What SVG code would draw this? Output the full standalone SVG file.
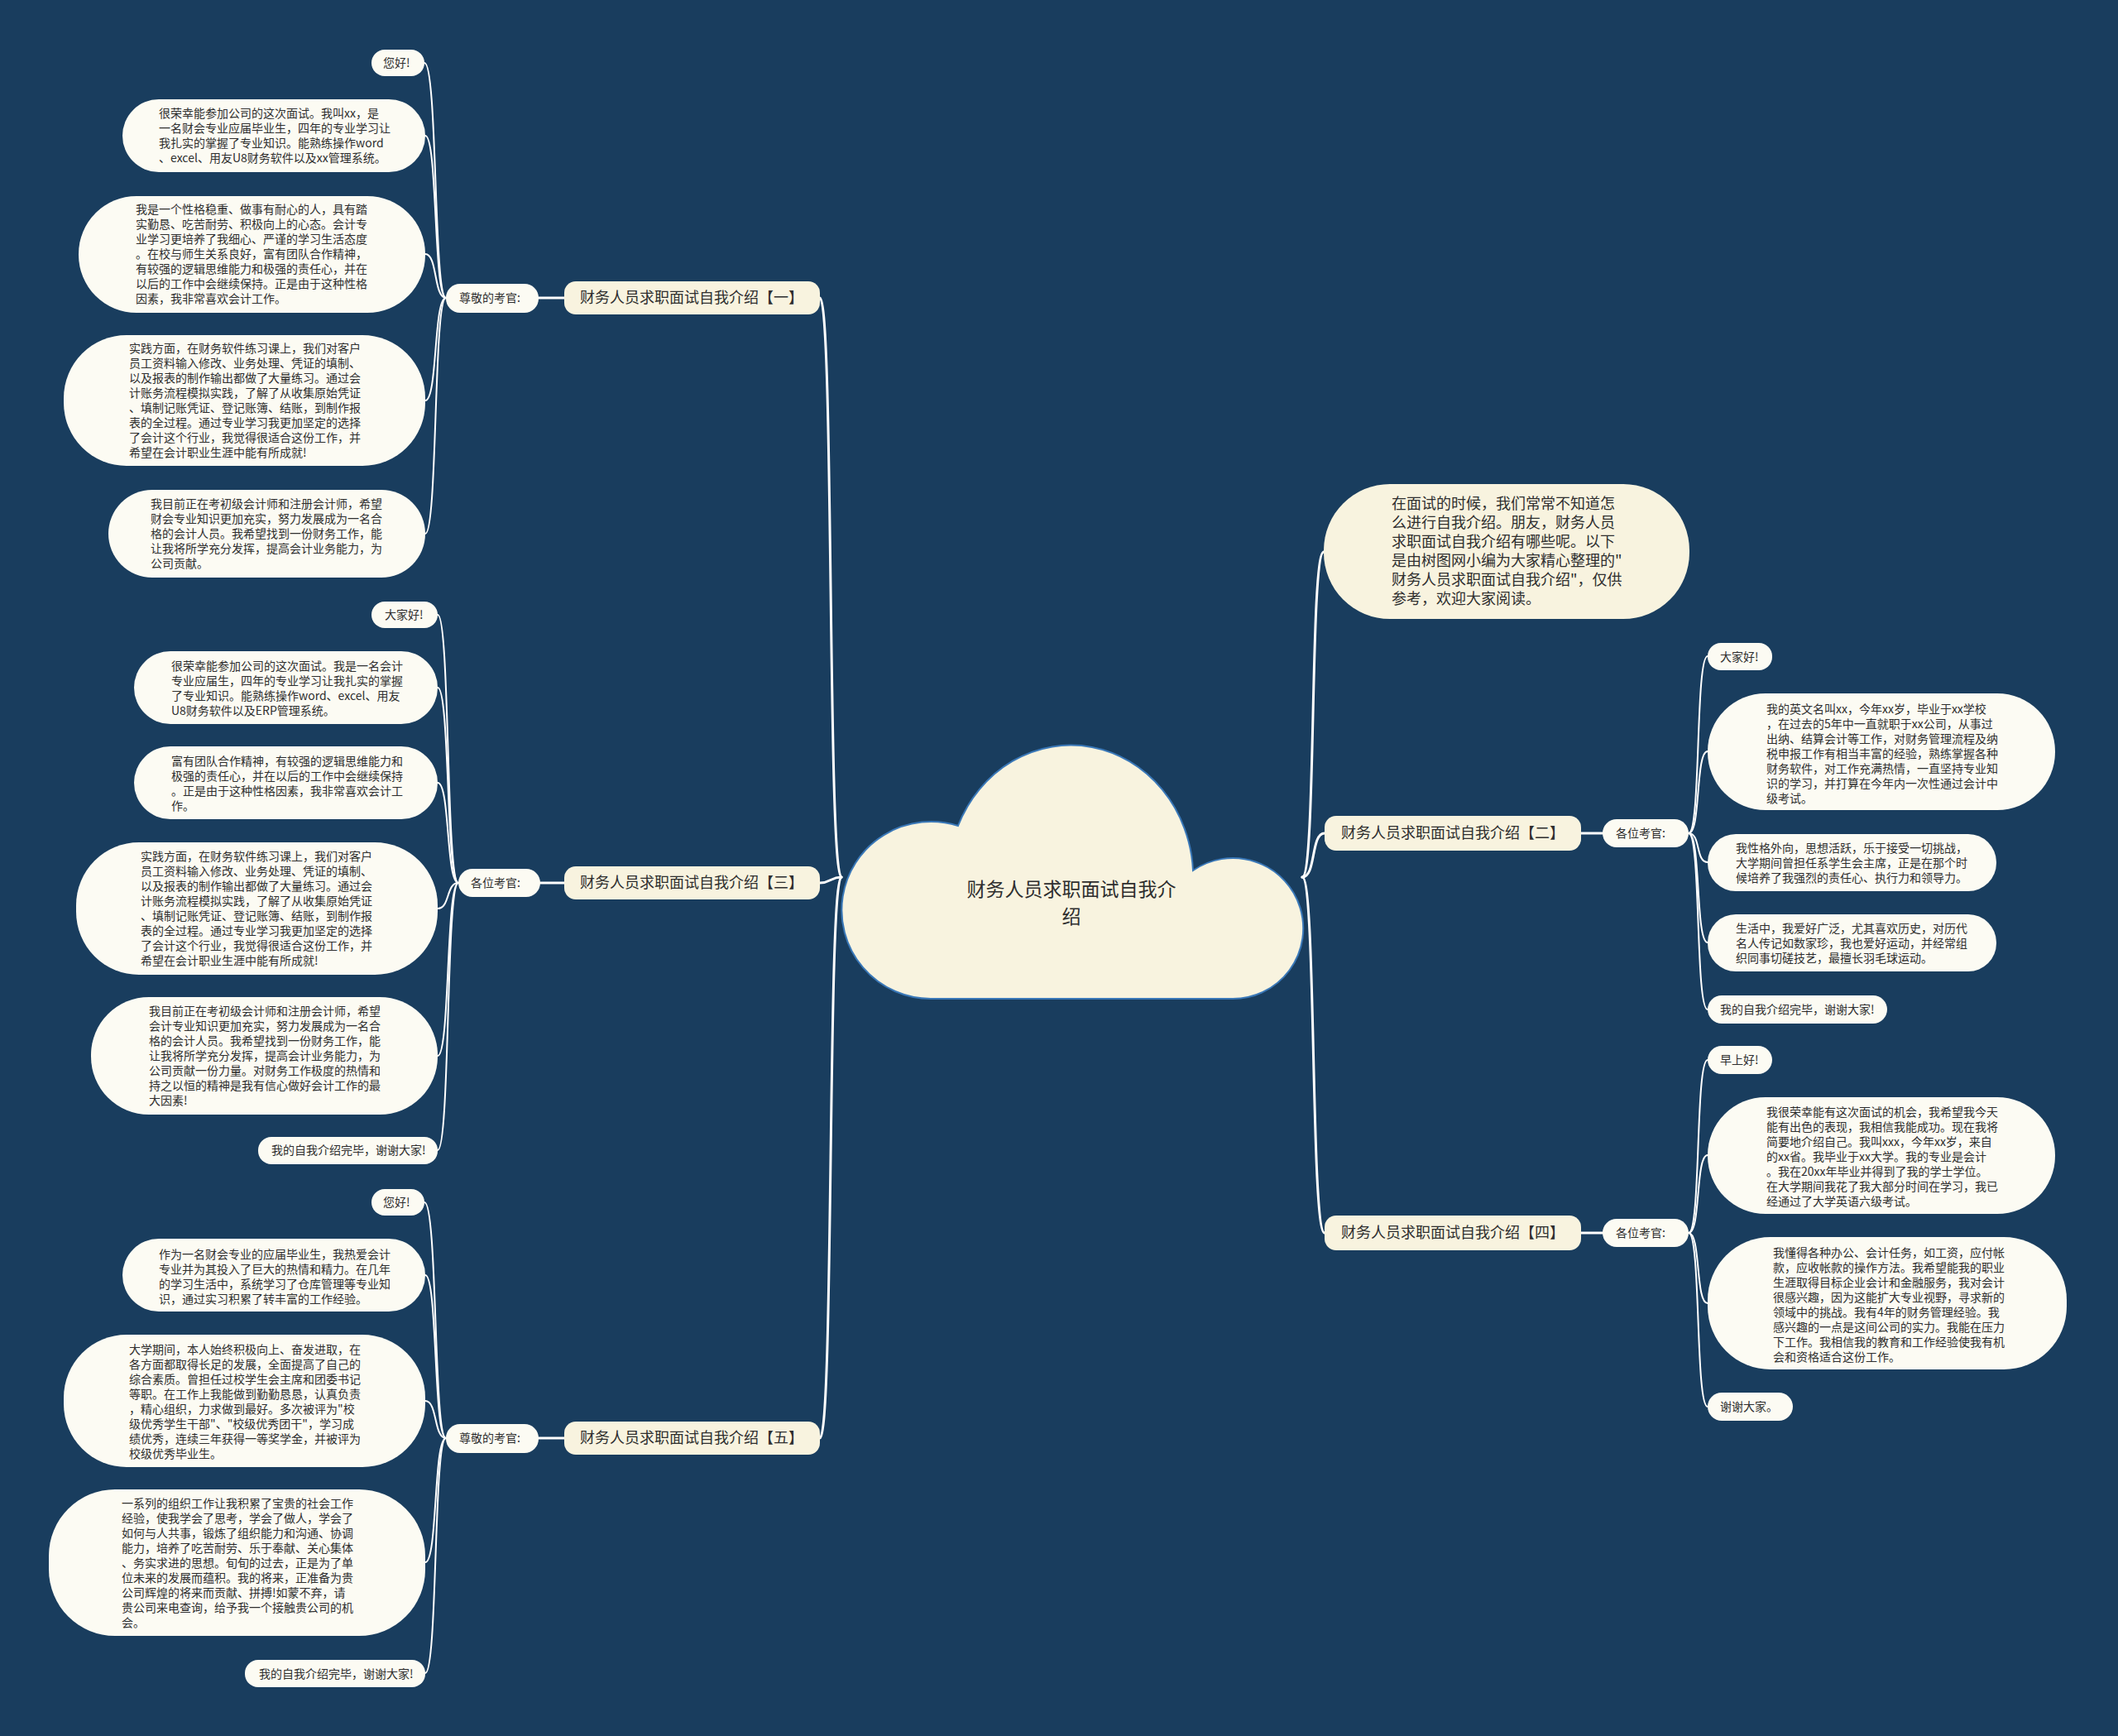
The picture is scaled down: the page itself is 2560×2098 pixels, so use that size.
<svg xmlns="http://www.w3.org/2000/svg" width="2560" height="2098" viewBox="0 0 2560 2098">
<style>
.leaf{fill:#fcfbf3}
.cream{fill:#f8f3df}
.t14{font-family:"Noto Sans CJK SC","Liberation Sans",sans-serif;font-size:14px;fill:#2e2e2e}
.t18{font-family:"Noto Sans CJK SC","Liberation Sans",sans-serif;font-size:18px;fill:#2e2e2e}
.t23{font-family:"Noto Sans CJK SC","Liberation Sans",sans-serif;font-size:23px;fill:#2e2e2e}
.c{fill:none;stroke:#ffffff;stroke-width:2;stroke-linecap:round}
.cm{fill:none;stroke:#ffffff;stroke-width:3;stroke-linecap:round}
</style>
<rect width="2560" height="2098" fill="#193d5e"/>
<g id="connectors">
<path class="cm" d="M1017,1060 C1000,1060 1008,360 991,360"/>
<path class="cm" d="M1017,1060 C1004,1060 1004,1067 991,1067"/>
<path class="cm" d="M1017,1060 C1000,1060 1008,1738 991,1738"/>
<path class="cm" d="M1574,1060 C1591,1060 1583,667 1600,667"/>
<path class="cm" d="M1574,1060 C1591,1060 1584,1007 1601,1007"/>
<path class="cm" d="M1574,1060 C1591,1060 1584,1490 1601,1490"/>
<path class="cm" d="M682,360 L651,360"/>
<path class="cm" d="M682,1067 L653,1067"/>
<path class="cm" d="M682,1738 L651,1738"/>
<path class="cm" d="M1911,1007 L1937,1007"/>
<path class="cm" d="M1911,1490 L1937,1490"/>
<path class="c" d="M539,360 C524,360 529,76 513,76"/>
<path class="c" d="M539,360 C524,360 529,164 514,164"/>
<path class="c" d="M539,360 C524,360 529,307 514,307"/>
<path class="c" d="M539,360 C524,360 529,484 514,484"/>
<path class="c" d="M539,360 C524,360 529,645 514,645"/>
<path class="c" d="M554,1067 C539,1067 544,743 529,743"/>
<path class="c" d="M554,1067 C539,1067 544,831 529,831"/>
<path class="c" d="M554,1067 C539,1067 544,946 529,946"/>
<path class="c" d="M554,1067 C539,1067 544,1098 529,1098"/>
<path class="c" d="M554,1067 C539,1067 544,1276 529,1276"/>
<path class="c" d="M554,1067 C539,1067 544,1390 529,1390"/>
<path class="c" d="M539,1738 C524,1738 529,1453 513,1453"/>
<path class="c" d="M539,1738 C524,1738 529,1541 514,1541"/>
<path class="c" d="M539,1738 C524,1738 529,1693 514,1693"/>
<path class="c" d="M539,1738 C524,1738 529,1888 514,1888"/>
<path class="c" d="M539,1738 C524,1738 529,2022 514,2022"/>
<path class="c" d="M2041,1007 C2056,1007 2049,793 2064,793"/>
<path class="c" d="M2041,1007 C2056,1007 2049,908 2064,908"/>
<path class="c" d="M2041,1007 C2056,1007 2049,1042 2064,1042"/>
<path class="c" d="M2041,1007 C2056,1007 2049,1139 2064,1139"/>
<path class="c" d="M2041,1007 C2056,1007 2049,1220 2064,1220"/>
<path class="c" d="M2041,1490 C2056,1490 2049,1281 2064,1281"/>
<path class="c" d="M2041,1490 C2056,1490 2049,1396 2064,1396"/>
<path class="c" d="M2041,1490 C2056,1490 2049,1575 2064,1575"/>
<path class="c" d="M2041,1490 C2056,1490 2049,1700 2064,1700"/>
</g>
<g id="root">
<path d="M1125,1207 A108,107 0 1 1 1158,998 A148,160 0 0 1 1442,1052 A85,85 0 1 1 1490,1207 Z" fill="#f8f3df" stroke="#3a78b8" stroke-width="2"/>
<text class="t23" text-anchor="middle"><tspan x="1295" y="1083">财务人员求职面试自我介</tspan><tspan x="1295" y="1116">绍</tspan></text>
</g>
<g id="intro">
<rect class="cream" x="1600" y="585" width="442" height="163" rx="80"/>
<text class="t18"><tspan x="1682" y="615">在面试的时候，我们常常不知道怎</tspan><tspan x="1682" dy="23">么进行自我介绍。朋友，财务人员</tspan><tspan x="1682" dy="23">求职面试自我介绍有哪些呢。以下</tspan><tspan x="1682" dy="23">是由树图网小编为大家精心整理的"</tspan><tspan x="1682" dy="23">财务人员求职面试自我介绍"，仅供</tspan><tspan x="1682" dy="23">参考，欢迎大家阅读。</tspan></text>
</g>
<g id="b1">
<rect class="cream" x="682" y="340" width="309" height="40" rx="14"/>
<text class="t18" x="701" y="366">财务人员求职面试自我介绍【一】</text>
</g>
<g id="l1">
<rect class="leaf" x="539" y="343" width="112" height="35" rx="17"/>
<text class="t14" x="555" y="365">尊敬的考官:</text>
</g>
<g id="n1a">
<rect class="leaf" x="449" y="60" width="64" height="32" rx="16"/>
<text class="t14" x="463" y="81">您好!</text>
</g>
<g id="n1b">
<rect class="leaf" x="148" y="120" width="366" height="88" rx="44"/>
<text class="t14"><tspan x="192" y="142">很荣幸能参加公司的这次面试。我叫xx，是</tspan><tspan x="192" dy="18">一名财会专业应届毕业生，四年的专业学习让</tspan><tspan x="192" dy="18">我扎实的掌握了专业知识。能熟练操作word</tspan><tspan x="192" dy="18">、excel、用友U8财务软件以及xx管理系统。</tspan></text>
</g>
<g id="n1c">
<rect class="leaf" x="95" y="237" width="419" height="141" rx="70"/>
<text class="t14"><tspan x="164" y="258">我是一个性格稳重、做事有耐心的人，具有踏</tspan><tspan x="164" dy="18">实勤恳、吃苦耐劳、积极向上的心态。会计专</tspan><tspan x="164" dy="18">业学习更培养了我细心、严谨的学习生活态度</tspan><tspan x="164" dy="18">。在校与师生关系良好，富有团队合作精神，</tspan><tspan x="164" dy="18">有较强的逻辑思维能力和极强的责任心，并在</tspan><tspan x="164" dy="18">以后的工作中会继续保持。正是由于这种性格</tspan><tspan x="164" dy="18">因素，我非常喜欢会计工作。</tspan></text>
</g>
<g id="n1d">
<rect class="leaf" x="77" y="405" width="437" height="158" rx="76"/>
<text class="t14"><tspan x="156" y="426">实践方面，在财务软件练习课上，我们对客户</tspan><tspan x="156" dy="18">员工资料输入修改、业务处理、凭证的填制、</tspan><tspan x="156" dy="18">以及报表的制作输出都做了大量练习。通过会</tspan><tspan x="156" dy="18">计账务流程模拟实践，了解了从收集原始凭证</tspan><tspan x="156" dy="18">、填制记账凭证、登记账簿、结账，到制作报</tspan><tspan x="156" dy="18">表的全过程。通过专业学习我更加坚定的选择</tspan><tspan x="156" dy="18">了会计这个行业，我觉得很适合这份工作，并</tspan><tspan x="156" dy="18">希望在会计职业生涯中能有所成就!</tspan></text>
</g>
<g id="n1e">
<rect class="leaf" x="131" y="592" width="383" height="106" rx="53"/>
<text class="t14"><tspan x="182" y="614">我目前正在考初级会计师和注册会计师，希望</tspan><tspan x="182" dy="18">财会专业知识更加充实，努力发展成为一名合</tspan><tspan x="182" dy="18">格的会计人员。我希望找到一份财务工作，能</tspan><tspan x="182" dy="18">让我将所学充分发挥，提高会计业务能力，为</tspan><tspan x="182" dy="18">公司贡献。</tspan></text>
</g>
<g id="b3">
<rect class="cream" x="682" y="1047" width="309" height="40" rx="14"/>
<text class="t18" x="701" y="1073">财务人员求职面试自我介绍【三】</text>
</g>
<g id="l3">
<rect class="leaf" x="554" y="1050" width="99" height="34" rx="17"/>
<text class="t14" x="569" y="1072">各位考官:</text>
</g>
<g id="n3a">
<rect class="leaf" x="449" y="727" width="80" height="32" rx="16"/>
<text class="t14" x="465" y="748">大家好!</text>
</g>
<g id="n3b">
<rect class="leaf" x="162" y="787" width="367" height="88" rx="44"/>
<text class="t14"><tspan x="207" y="810">很荣幸能参加公司的这次面试。我是一名会计</tspan><tspan x="207" dy="18">专业应届生，四年的专业学习让我扎实的掌握</tspan><tspan x="207" dy="18">了专业知识。能熟练操作word、excel、用友</tspan><tspan x="207" dy="18">U8财务软件以及ERP管理系统。</tspan></text>
</g>
<g id="n3c">
<rect class="leaf" x="162" y="902" width="367" height="88" rx="44"/>
<text class="t14"><tspan x="207" y="925">富有团队合作精神，有较强的逻辑思维能力和</tspan><tspan x="207" dy="18">极强的责任心，并在以后的工作中会继续保持</tspan><tspan x="207" dy="18">。正是由于这种性格因素，我非常喜欢会计工</tspan><tspan x="207" dy="18">作。</tspan></text>
</g>
<g id="n3d">
<rect class="leaf" x="92" y="1018" width="437" height="160" rx="76"/>
<text class="t14"><tspan x="170" y="1040">实践方面，在财务软件练习课上，我们对客户</tspan><tspan x="170" dy="18">员工资料输入修改、业务处理、凭证的填制、</tspan><tspan x="170" dy="18">以及报表的制作输出都做了大量练习。通过会</tspan><tspan x="170" dy="18">计账务流程模拟实践，了解了从收集原始凭证</tspan><tspan x="170" dy="18">、填制记账凭证、登记账簿、结账，到制作报</tspan><tspan x="170" dy="18">表的全过程。通过专业学习我更加坚定的选择</tspan><tspan x="170" dy="18">了会计这个行业，我觉得很适合这份工作，并</tspan><tspan x="170" dy="18">希望在会计职业生涯中能有所成就!</tspan></text>
</g>
<g id="n3e">
<rect class="leaf" x="110" y="1205" width="419" height="142" rx="70"/>
<text class="t14"><tspan x="180" y="1227">我目前正在考初级会计师和注册会计师，希望</tspan><tspan x="180" dy="18">会计专业知识更加充实，努力发展成为一名合</tspan><tspan x="180" dy="18">格的会计人员。我希望找到一份财务工作，能</tspan><tspan x="180" dy="18">让我将所学充分发挥，提高会计业务能力，为</tspan><tspan x="180" dy="18">公司贡献一份力量。对财务工作极度的热情和</tspan><tspan x="180" dy="18">持之以恒的精神是我有信心做好会计工作的最</tspan><tspan x="180" dy="18">大因素!</tspan></text>
</g>
<g id="n3f">
<rect class="leaf" x="312" y="1374" width="217" height="33" rx="16"/>
<text class="t14" x="328" y="1395">我的自我介绍完毕，谢谢大家!</text>
</g>
<g id="b5">
<rect class="cream" x="682" y="1718" width="309" height="40" rx="14"/>
<text class="t18" x="701" y="1744">财务人员求职面试自我介绍【五】</text>
</g>
<g id="l5">
<rect class="leaf" x="539" y="1721" width="112" height="35" rx="17"/>
<text class="t14" x="555" y="1743">尊敬的考官:</text>
</g>
<g id="n5a">
<rect class="leaf" x="449" y="1437" width="64" height="32" rx="16"/>
<text class="t14" x="463" y="1458">您好!</text>
</g>
<g id="n5b">
<rect class="leaf" x="148" y="1497" width="366" height="88" rx="44"/>
<text class="t14"><tspan x="192" y="1521">作为一名财会专业的应届毕业生，我热爱会计</tspan><tspan x="192" dy="18">专业并为其投入了巨大的热情和精力。在几年</tspan><tspan x="192" dy="18">的学习生活中，系统学习了仓库管理等专业知</tspan><tspan x="192" dy="18">识，通过实习积累了转丰富的工作经验。</tspan></text>
</g>
<g id="n5c">
<rect class="leaf" x="77" y="1613" width="437" height="160" rx="76"/>
<text class="t14"><tspan x="156" y="1636">大学期间，本人始终积极向上、奋发进取，在</tspan><tspan x="156" dy="18">各方面都取得长足的发展，全面提高了自己的</tspan><tspan x="156" dy="18">综合素质。曾担任过校学生会主席和团委书记</tspan><tspan x="156" dy="18">等职。在工作上我能做到勤勤恳恳，认真负责</tspan><tspan x="156" dy="18">，精心组织，力求做到最好。多次被评为"校</tspan><tspan x="156" dy="18">级优秀学生干部"、"校级优秀团干"，学习成</tspan><tspan x="156" dy="18">绩优秀，连续三年获得一等奖学金，并被评为</tspan><tspan x="156" dy="18">校级优秀毕业生。</tspan></text>
</g>
<g id="n5d">
<rect class="leaf" x="59" y="1800" width="455" height="177" rx="80"/>
<text class="t14"><tspan x="147" y="1822">一系列的组织工作让我积累了宝贵的社会工作</tspan><tspan x="147" dy="18">经验，使我学会了思考，学会了做人，学会了</tspan><tspan x="147" dy="18">如何与人共事，锻炼了组织能力和沟通、协调</tspan><tspan x="147" dy="18">能力，培养了吃苦耐劳、乐于奉献、关心集体</tspan><tspan x="147" dy="18">、务实求进的思想。旬旬的过去，正是为了单</tspan><tspan x="147" dy="18">位未来的发展而蕴积。我的将来，正准备为贵</tspan><tspan x="147" dy="18">公司辉煌的将来而贡献、拼搏!如蒙不弃，请</tspan><tspan x="147" dy="18">贵公司来电查询，给予我一个接触贵公司的机</tspan><tspan x="147" dy="18">会。</tspan></text>
</g>
<g id="n5e">
<rect class="leaf" x="296" y="2006" width="218" height="33" rx="16"/>
<text class="t14" x="313" y="2028">我的自我介绍完毕，谢谢大家!</text>
</g>
<g id="b2">
<rect class="cream" x="1601" y="986" width="310" height="42" rx="14"/>
<text class="t18" x="1621" y="1013">财务人员求职面试自我介绍【二】</text>
</g>
<g id="l2">
<rect class="leaf" x="1937" y="990" width="104" height="34" rx="17"/>
<text class="t14" x="1953" y="1012">各位考官:</text>
</g>
<g id="n2a">
<rect class="leaf" x="2064" y="777" width="78" height="33" rx="16"/>
<text class="t14" x="2079" y="799">大家好!</text>
</g>
<g id="n2b">
<rect class="leaf" x="2064" y="838" width="420" height="141" rx="70"/>
<text class="t14"><tspan x="2135" y="862">我的英文名叫xx，今年xx岁，毕业于xx学校</tspan><tspan x="2135" dy="18">，在过去的5年中一直就职于xx公司，从事过</tspan><tspan x="2135" dy="18">出纳、结算会计等工作，对财务管理流程及纳</tspan><tspan x="2135" dy="18">税申报工作有相当丰富的经验，熟练掌握各种</tspan><tspan x="2135" dy="18">财务软件，对工作充满热情，一直坚持专业知</tspan><tspan x="2135" dy="18">识的学习，并打算在今年内一次性通过会计中</tspan><tspan x="2135" dy="18">级考试。</tspan></text>
</g>
<g id="n2c">
<rect class="leaf" x="2064" y="1008" width="349" height="69" rx="34"/>
<text class="t14"><tspan x="2098" y="1030">我性格外向，思想活跃，乐于接受一切挑战，</tspan><tspan x="2098" dy="18">大学期间曾担任系学生会主席，正是在那个时</tspan><tspan x="2098" dy="18">候培养了我强烈的责任心、执行力和领导力。</tspan></text>
</g>
<g id="n2d">
<rect class="leaf" x="2064" y="1105" width="349" height="69" rx="34"/>
<text class="t14"><tspan x="2098" y="1127">生活中，我爱好广泛，尤其喜欢历史，对历代</tspan><tspan x="2098" dy="18">名人传记如数家珍，我也爱好运动，并经常组</tspan><tspan x="2098" dy="18">织同事切磋技艺，最擅长羽毛球运动。</tspan></text>
</g>
<g id="n2e">
<rect class="leaf" x="2064" y="1203" width="217" height="34" rx="17"/>
<text class="t14" x="2079" y="1225">我的自我介绍完毕，谢谢大家!</text>
</g>
<g id="b4">
<rect class="cream" x="1601" y="1469" width="310" height="42" rx="14"/>
<text class="t18" x="1621" y="1496">财务人员求职面试自我介绍【四】</text>
</g>
<g id="l4">
<rect class="leaf" x="1937" y="1473" width="104" height="34" rx="17"/>
<text class="t14" x="1953" y="1495">各位考官:</text>
</g>
<g id="n4a">
<rect class="leaf" x="2064" y="1264" width="78" height="34" rx="17"/>
<text class="t14" x="2079" y="1286">早上好!</text>
</g>
<g id="n4b">
<rect class="leaf" x="2064" y="1326" width="420" height="141" rx="70"/>
<text class="t14"><tspan x="2135" y="1349">我很荣幸能有这次面试的机会，我希望我今天</tspan><tspan x="2135" dy="18">能有出色的表现，我相信我能成功。现在我将</tspan><tspan x="2135" dy="18">简要地介绍自己。我叫xxx，今年xx岁，来自</tspan><tspan x="2135" dy="18">的xx省。我毕业于xx大学。我的专业是会计</tspan><tspan x="2135" dy="18">。我在20xx年毕业并得到了我的学士学位。</tspan><tspan x="2135" dy="18">在大学期间我花了我大部分时间在学习，我已</tspan><tspan x="2135" dy="18">经通过了大学英语六级考试。</tspan></text>
</g>
<g id="n4c">
<rect class="leaf" x="2064" y="1495" width="434" height="160" rx="76"/>
<text class="t14"><tspan x="2143" y="1519">我懂得各种办公、会计任务，如工资，应付帐</tspan><tspan x="2143" dy="18">款，应收帐款的操作方法。我希望能我的职业</tspan><tspan x="2143" dy="18">生涯取得目标企业会计和金融服务，我对会计</tspan><tspan x="2143" dy="18">很感兴趣，因为这能扩大专业视野，寻求新的</tspan><tspan x="2143" dy="18">领域中的挑战。我有4年的财务管理经验。我</tspan><tspan x="2143" dy="18">感兴趣的一点是这间公司的实力。我能在压力</tspan><tspan x="2143" dy="18">下工作。我相信我的教育和工作经验使我有机</tspan><tspan x="2143" dy="18">会和资格适合这份工作。</tspan></text>
</g>
<g id="n4d">
<rect class="leaf" x="2064" y="1683" width="103" height="34" rx="17"/>
<text class="t14" x="2079" y="1705">谢谢大家。</text>
</g>
</svg>
